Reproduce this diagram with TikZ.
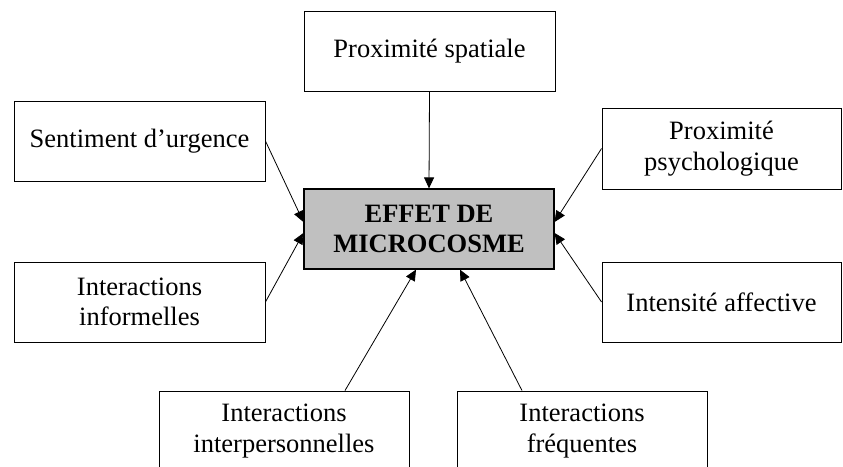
\documentclass[tikz,border=0pt]{standalone}
\usepackage{fontspec}
\setmainfont{Liberation Serif}
\usetikzlibrary{arrows.meta}
\definecolor{coregray}{RGB}{192,192,192}
\begin{document}
\begin{tikzpicture}[x=1pt,y=-1pt,
  box/.style={draw=black,line width=0.9pt,fill=white,minimum width=251pt,minimum height=80pt,
    align=center,inner sep=0pt,font=\fontsize{26.5}{30.5}\selectfont},
  core/.style={box,fill=coregray,line width=1.2pt,minimum width=250pt,font=\fontsize{26.5}{30.5}\selectfont\bfseries},
  arr/.style={line width=0.8pt,-{Triangle[length=11pt,width=10pt]}}
]
\useasboundingbox (0,0) rectangle (843,466);
\clip (0,0) rectangle (843,466);
\node[box] (spat) at (429.5,51.5) {Proximité spatiale};
\node[core] (core) at (429,229) {EFFET DE\\MICROCOSME};
\node[box] (urg) at (139.5,141) {Sentiment d’urgence};
\node[box] (inf) at (139.5,302) {Interactions\\informelles};
\node[box,minimum width=239pt,minimum height=81pt] (psy) at (721.5,148.5) {Proximité\\psychologique};
\node[box,minimum width=239pt] (aff) at (721.5,302) {Intensité affective};
\node[box,minimum width=250pt] (inter) at (284,431) {Interactions\\interpersonnelles};
\node[box,minimum width=250pt] (freq) at (582,431) {Interactions\\fréquentes};
\draw[arr] (spat.south) -- (core.north);
\draw[arr] (urg.east) -- ([yshift=7pt]core.west);
\draw[arr] (inf.east) -- ([yshift=-4pt]core.west);
\draw[arr] (psy.west) -- ([yshift=7pt]core.east);
\draw[arr] (aff.west) -- ([yshift=-4pt]core.east);
\draw[arr] ([xshift=61pt]inter.north) -- ([xshift=-13pt]core.south);
\draw[arr] ([xshift=-60pt]freq.north) -- ([xshift=31pt]core.south);
\end{tikzpicture}
\end{document}
